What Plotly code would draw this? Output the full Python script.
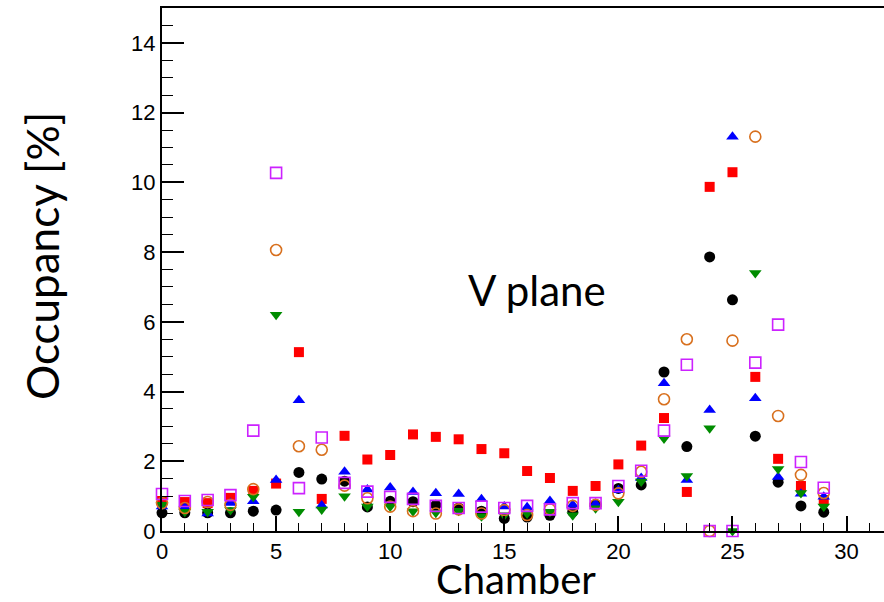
import plotly.graph_objects as go

chambers = list(range(30))

black = [0.52, 0.52, 0.52, 0.52, 0.57, 0.60, 1.68, 1.49, 1.43, 0.69,
         0.85, 0.84, 0.74, 0.66, 0.57, 0.36, 0.40, 0.45, 0.55, 0.75,
         1.22, 1.32, 4.56, 2.42, 7.86, 6.63, 2.72, 1.40, 0.72, 0.54]
red = [0.86, 0.83, 0.80, 0.95, 1.15, 1.36, 5.13, 0.92, 2.73, 2.05,
       2.18, 2.77, 2.70, 2.63, 2.35, 2.23, 1.72, 1.52, 1.15, 1.29,
       1.91, 2.45, 3.24, 1.12, 9.87, 10.29, 4.42, 2.07, 1.29, 0.89]
blue = [0.70, 0.68, 0.50, 0.80, 0.85, 1.46, 3.75, 0.73, 1.70, 1.19,
        1.25, 1.12, 1.08, 1.06, 0.91, 0.70, 0.68, 0.86, 0.75, 0.78,
        1.17, 1.52, 4.24, 1.46, 3.47, 11.31, 3.81, 1.55, 1.07, 0.98]
green = [0.75, 0.55, 0.55, 0.60, 0.98, 6.20, 0.55, 0.62, 1.00, 0.70,
         0.70, 0.57, 0.52, 0.58, 0.42, 0.45, 0.50, 0.55, 0.45, 0.65,
         0.84, 1.42, 2.65, 1.58, 2.95, 0.00, 7.40, 1.78, 1.09, 0.70]
orange = [0.80, 0.66, 0.83, 0.75, 1.20, 8.06, 2.43, 2.33, 1.30, 0.94,
          0.70, 0.57, 0.50, 0.62, 0.50, 0.60, 0.46, 0.62, 0.72, 0.75,
          1.08, 1.70, 3.78, 5.50, 0.00, 5.46, 11.31, 3.30, 1.61, 1.09]
magenta = [1.06, 0.86, 0.89, 1.03, 2.88, 10.27, 1.23, 2.68, 1.38, 1.13,
           0.98, 0.92, 0.72, 0.66, 0.70, 0.66, 0.72, 0.62, 0.80, 0.80,
           1.29, 1.73, 2.88, 4.77, 0.00, 0.00, 4.83, 5.92, 1.98, 1.24]

series = [
    (black, "circle", "#000000", 11),
    (red, "square", "#ff0000", 10),
    (blue, "triangle-up", "#0000ff", 11),
    (green, "triangle-down", "#008c00", 11),
    (orange, "circle-open", "#d8701e", 11),
    (magenta, "square-open", "#cc22ff", 11),
]

fig = go.Figure()
for vals, sym, col, sz in series:
    fig.add_trace(go.Scatter(
        x=chambers, y=vals, mode="markers", cliponaxis=False,
        marker=dict(symbol=sym, color=col, size=sz,
                    line=dict(color=col, width=1.6 if "open" in sym else 0)),
        showlegend=False))

W, H = 884, 602
L, R, T, B = 162, 0, 8, 71
pw, ph = W - L - R, H - T - B


def px_ann(text, x, y, size, angle=0):
    return dict(text=text, xref="paper", yref="paper",
                x=(x - L) / pw, y=(H - B - y) / ph,
                xanchor="center", yanchor="middle", showarrow=False,
                textangle=angle, borderpad=0,
                font=dict(family="Lato", size=size))


fig.update_layout(
    width=W, height=H,
    margin=dict(l=L, r=R, t=T, b=B),
    plot_bgcolor="white", paper_bgcolor="white",
    font=dict(family="Liberation Sans, Arial", color="black", size=22),
    xaxis=dict(range=[0, 31.64], dtick=5, tick0=0, ticks="inside", ticklen=15,
               tickwidth=1.5, tickcolor="black", showline=True, linewidth=2,
               linecolor="black", mirror=True, showgrid=False, zeroline=False,
               minor=dict(dtick=1, ticks="inside", ticklen=8, tickwidth=1.2,
                          tickcolor="black", showgrid=False)),
    yaxis=dict(range=[0, 15.0], dtick=2, tick0=0, ticks="inside", ticklen=22,
               tickwidth=1.5, tickcolor="black", showline=True, linewidth=2,
               linecolor="black", showgrid=False, zeroline=False,
               minor=dict(dtick=0.5, ticks="inside", ticklen=11, tickwidth=1.2,
                          tickcolor="black", showgrid=False)),
    annotations=[
        px_ann("Chamber", 516, 579, 40),
        px_ann("Occupancy [%]", 42, 256, 44, -90),
        px_ann("V plane", 537, 290, 42),
    ],
)

fig.write_html("out.html")
